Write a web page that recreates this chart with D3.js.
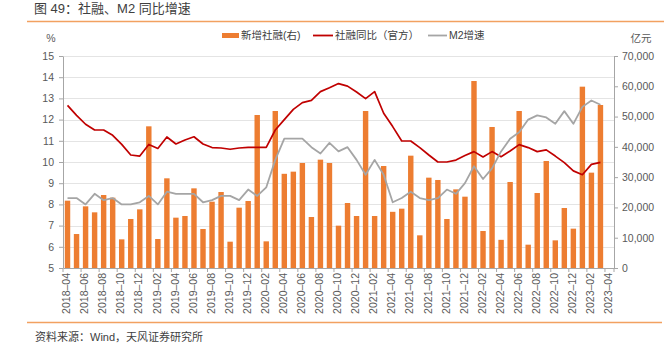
<!DOCTYPE html>
<html><head><meta charset="utf-8">
<script src="https://cdn.jsdelivr.net/npm/d3@7"></script>
<style>
html,body{margin:0;padding:0;background:#fff;}
svg{display:block;font-family:"Liberation Sans",Arial,"Noto Sans CJK SC",sans-serif;}
</style></head>
<body>
<svg id="c" width="671" height="354"></svg>
<script>
// ---- data ----
const months = ["2018-04","2018-05","2018-06","2018-07","2018-08","2018-09","2018-10","2018-11","2018-12",
"2019-01","2019-02","2019-03","2019-04","2019-05","2019-06","2019-07","2019-08","2019-09","2019-10","2019-11","2019-12",
"2020-01","2020-02","2020-03","2020-04","2020-05","2020-06","2020-07","2020-08","2020-09","2020-10","2020-11","2020-12",
"2021-01","2021-02","2021-03","2021-04","2021-05","2021-06","2021-07","2021-08","2021-09","2021-10","2021-11","2021-12",
"2022-01","2022-02","2022-03","2022-04","2022-05","2022-06","2022-07","2022-08","2022-09","2022-10","2022-11","2022-12",
"2023-01","2023-02","2023-03","2023-04"];
// 新增社融（亿元，右轴）
const newTSF = [22230,11220,20360,18380,24100,23220,9460,16180,19370,
46780,9570,29610,16620,17170,26300,12880,21900,25090,8690,19920,22120,
50520,8800,51840,31100,31810,34670,16840,35770,34670,13980,21460,17170,
51840,17170,33680,18550,19590,37090,10790,29830,29060,16180,25970,23550,
61740,12220,46560,9300,28400,51840,7700,24760,35330,9130,19810,12990,
59870,31480,53820];
// 社融同比（官方，%）
const tsfYoY = [12.67,12.2,11.78,11.51,11.51,11.26,10.83,10.33,10.28,
10.83,10.64,11.18,10.85,11.04,11.19,10.85,10.68,10.66,10.6,10.66,10.69,
10.69,10.69,11.51,12.0,12.48,12.8,12.91,13.32,13.5,13.7,13.58,13.3,
12.99,13.32,12.3,11.67,10.99,10.99,10.68,10.33,10.0,10.0,10.09,10.31,
10.49,10.24,10.49,10.25,10.52,10.82,10.68,10.49,10.57,10.28,9.97,9.58,
9.4,9.89,9.98];
// M2增速（%）
const m2YoY = [8.3,8.3,8.0,8.5,8.2,8.3,8.0,8.0,8.1,
8.4,8.0,8.6,8.5,8.5,8.5,8.1,8.2,8.4,8.4,8.2,8.7,
8.4,8.8,10.1,11.1,11.1,11.1,10.7,10.4,10.9,10.5,10.7,10.1,
9.4,10.1,9.4,8.1,8.3,8.6,8.3,8.2,8.3,8.7,8.5,9.0,
9.8,9.2,9.7,10.5,11.1,11.4,12.0,12.2,12.1,11.8,12.4,11.8,
12.6,12.9,12.7];
const leftTicks = [5,6,7,8,9,10,11,12,13,14,15];
const rightTicks = [0,10000,20000,30000,40000,50000,60000,70000];
const seriesNames = ["新增社融(右)","社融同比（官方）","M2增速"];
const titleText = "图 49：社融、M2 同比增速";
const sourceText = "资料来源：Wind，天风证券研究所";

// ---- layout ----
const L=63, R=614, T=56, B=268;
const cBar="#ED7D31", cRed="#C00000", cGrey="#A5A5A5", cRule="#F2A160", cText="#595959", cAxis="#A6A6A6";
const svg = d3.select("#c");

const x = d3.scaleBand().domain(months).range([L,R]).padding(0);
const bw = x.bandwidth();
const yL = d3.scaleLinear().domain([5,15]).range([B,T]);
const yR = d3.scaleLinear().domain([0,70000]).range([B,T]);

// title & rules
svg.append("text").attr("x",34).attr("y",13).attr("font-size",13).attr("fill","#404040").text(titleText);
svg.append("line").attr("x1",27).attr("x2",664).attr("y1",21.5).attr("y2",21.5).attr("stroke",cRule).attr("stroke-width",1.3);
svg.append("line").attr("x1",27).attr("x2",662).attr("y1",322.5).attr("y2",322.5).attr("stroke",cRule).attr("stroke-width",1.3);
svg.append("text").attr("x",35).attr("y",341).attr("font-size",11).attr("fill","#404040").text(sourceText);

// gridlines
svg.append("g").selectAll("line").data(leftTicks.filter(d=>d>5)).join("line")
  .attr("x1",L).attr("x2",R).attr("y1",d=>Math.round(yL(d))+0.5).attr("y2",d=>Math.round(yL(d))+0.5)
  .attr("stroke","#E4E4E4").attr("stroke-width",1);

// bars
svg.append("g").selectAll("rect").data(newTSF).join("rect")
  .attr("x",(d,i)=>x(months[i])+bw*0.2).attr("width",bw*0.6)
  .attr("y",d=>yR(d)).attr("height",d=>B-yR(d)).attr("fill",cBar);

// lines
const line = (ys)=>d3.line().x((d,i)=>x(months[i])+bw/2).y(d=>ys(d));
svg.append("path").datum(tsfYoY).attr("d",line(yL)).attr("fill","none").attr("stroke",cRed).attr("stroke-width",1.7).attr("stroke-linejoin","round");
svg.append("path").datum(m2YoY).attr("d",line(yL)).attr("fill","none").attr("stroke",cGrey).attr("stroke-width",1.8).attr("stroke-linejoin","round");

// axes
const styleAxis = g=>{
  g.select(".domain").attr("stroke",cAxis);
  g.selectAll(".tick line").attr("stroke",cAxis);
  g.selectAll(".tick text").attr("fill",cText).attr("font-size",10.5).attr("font-family",null);
};
svg.append("g").attr("transform",`translate(${L},0)`)
  .call(d3.axisLeft(yL).tickValues(leftTicks).tickSize(4).tickPadding(5).tickSizeOuter(0))
  .call(styleAxis);
svg.append("g").attr("transform",`translate(${R},0)`)
  .call(d3.axisRight(yR).tickValues(rightTicks).tickSize(4).tickPadding(4).tickSizeOuter(0).tickFormat(d3.format(",")))
  .call(styleAxis);

const evenMonths = months.filter((m,i)=>i%2===0);
const gx = svg.append("g").attr("transform",`translate(0,${B})`)
  .call(d3.axisBottom(x).tickValues(evenMonths).tickSize(0).tickSizeOuter(0).tickPadding(0))
  .call(styleAxis);
gx.selectAll(".tick text")
  .text(d=>d.replace("-","–"))
  .attr("transform","translate(-1,5) rotate(-90)")
  .attr("text-anchor","end").attr("dy","0.35em").attr("y",0).attr("x",0);
// tick marks at category boundaries, every 2 categories
const boundaries = evenMonths.map(m=>x(m)).concat([R]);
gx.append("g").selectAll("line").data(boundaries).join("line")
  .attr("x1",d=>d).attr("x2",d=>d).attr("y1",0).attr("y2",4).attr("stroke",cAxis);

// unit labels
svg.append("text").attr("x",51).attr("y",42).attr("text-anchor","middle").attr("font-size",10.5).attr("fill",cText).text("%");
svg.append("text").attr("x",641).attr("y",42).attr("text-anchor","middle").attr("font-size",10.5).attr("fill",cText).text("亿元");

// legend
const lg = svg.append("g").attr("font-size",10.5).attr("fill","#404040");
lg.append("rect").attr("x",222).attr("y",33).attr("width",17).attr("height",5).attr("fill",cBar);
lg.append("text").attr("x",241).attr("y",39).text(seriesNames[0]);
lg.append("line").attr("x1",313).attr("x2",333).attr("y1",35.5).attr("y2",35.5).attr("stroke",cRed).attr("stroke-width",1.8);
lg.append("text").attr("x",335).attr("y",39).text(seriesNames[1]);
lg.append("line").attr("x1",428).attr("x2",447).attr("y1",35.5).attr("y2",35.5).attr("stroke",cGrey).attr("stroke-width",1.8);
lg.append("text").attr("x",449).attr("y",39).text(seriesNames[2]);
</script>
</body></html>
